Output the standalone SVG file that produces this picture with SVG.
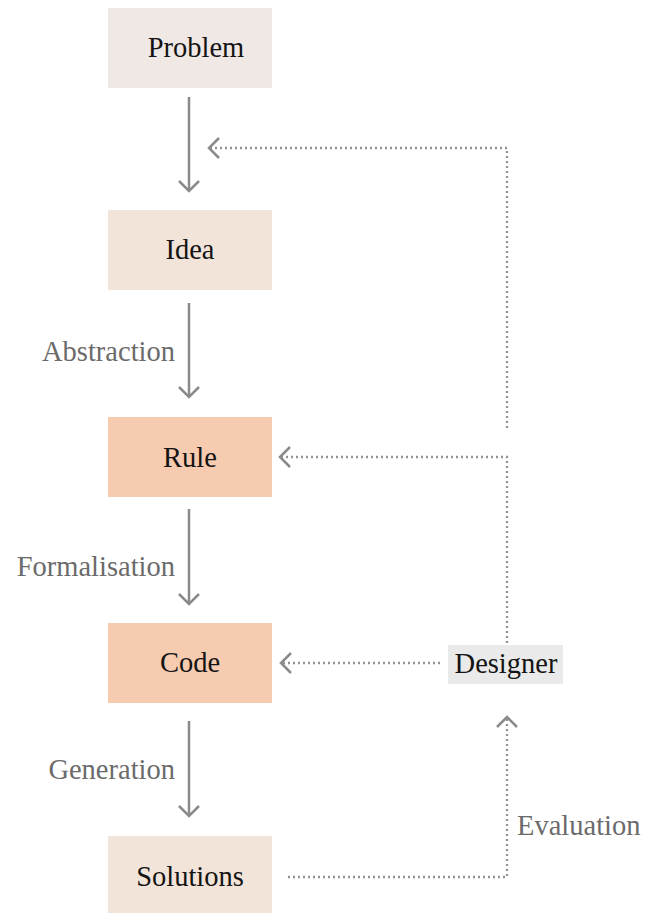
<svg xmlns="http://www.w3.org/2000/svg" width="647" height="913" viewBox="0 0 647 913">
  <defs>
    <style>
      text { font-family: 'Liberation Serif', 'DejaVu Serif', serif; font-size: 28.5px; }
      .node-text { fill: #141414; text-anchor: middle; }
      .edge-label { fill: #6b6b6b; }
      .flow { fill: none; stroke: #8a8a8a; stroke-width: 2.5; }
      .feedback { fill: none; stroke: #939393; stroke-width: 2.3; stroke-dasharray: 2 3; }
    </style>
    <marker id="chevron" viewBox="-12 -12 14 24" markerWidth="14" markerHeight="24" refX="0" refY="0" orient="auto" markerUnits="userSpaceOnUse">
      <path d="M -10 -10 L 0 0 L -10 10" fill="none" stroke="#8a8a8a" stroke-width="2.5"/>
    </marker>
  </defs>

  <rect width="647" height="913" fill="#ffffff"/>

  <!-- Nodes -->
  <g id="problem">
    <rect x="108" y="8" width="164" height="80" fill="#f0e8e5"/>
    <text class="node-text" x="196" y="57">Problem</text>
  </g>
  <g id="idea">
    <rect x="108" y="210" width="164" height="80" fill="#f2e4d9"/>
    <text class="node-text" x="190" y="259">Idea</text>
  </g>
  <g id="rule">
    <rect x="108" y="417" width="164" height="80" fill="#f7cbb0"/>
    <text class="node-text" x="190" y="467">Rule</text>
  </g>
  <g id="code">
    <rect x="108" y="623" width="164" height="80" fill="#f7cbb0"/>
    <text class="node-text" x="190" y="672">Code</text>
  </g>
  <g id="solutions">
    <rect x="108" y="836" width="164" height="78" fill="#f2e4d9"/>
    <text class="node-text" x="190" y="886">Solutions</text>
  </g>
  <g id="designer">
    <rect x="448" y="645" width="115" height="39" fill="#e9eae9"/>
    <text class="node-text" x="506" y="673">Designer</text>
  </g>

  <!-- Connectors -->
  <g id="connectors">
    <!-- main flow -->
    <line class="flow" x1="189" y1="97" x2="189" y2="191" marker-end="url(#chevron)"/>
    <line class="flow" x1="189" y1="303" x2="189" y2="397" marker-end="url(#chevron)"/>
    <line class="flow" x1="189" y1="509" x2="189" y2="604" marker-end="url(#chevron)"/>
    <line class="flow" x1="189" y1="721" x2="189" y2="816" marker-end="url(#chevron)"/>

    <!-- feedback loops -->
    <polyline class="feedback" points="507,428 507,148 209,148" marker-end="url(#chevron)"/>
    <polyline class="feedback" points="507,643 507,457 280,457" marker-end="url(#chevron)"/>
    <line class="feedback" x1="440" y1="663" x2="281" y2="663" marker-end="url(#chevron)"/>
    <polyline class="feedback" points="288,877 507,877 507,717" marker-end="url(#chevron)"/>

    <!-- labels -->
    <text class="edge-label" x="175" y="361" text-anchor="end">Abstraction</text>
    <text class="edge-label" x="175" y="576" text-anchor="end">Formalisation</text>
    <text class="edge-label" x="175" y="779" text-anchor="end">Generation</text>
    <text class="edge-label" x="517" y="835">Evaluation</text>
  </g>
</svg>
